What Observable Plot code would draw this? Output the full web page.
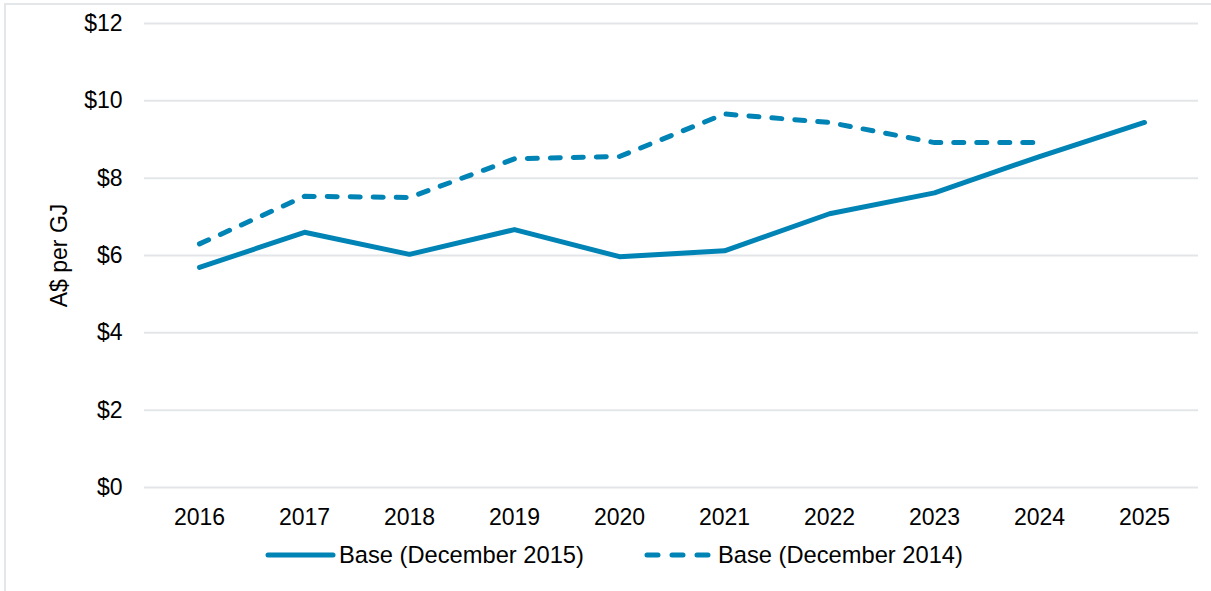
<!DOCTYPE html>
<html>
<head>
<meta charset="utf-8">
<script src="https://cdn.jsdelivr.net/npm/d3@7"></script>
<script src="https://cdn.jsdelivr.net/npm/@observablehq/plot@0.6"></script>
<style>
  html, body { margin: 0; padding: 0; background: #fff; }
  body { width: 1211px; height: 591px; position: relative; overflow: hidden; font-family: "Liberation Sans", Arial, sans-serif; }
  #frame { position: absolute; left: 4px; top: 3px; width: 1400px; height: 800px; border: 2px solid #e3e7ea; box-sizing: border-box; }
  #chart { position: absolute; left: 0; top: 0; }
  #legend { position: absolute; top: 540px; left: 0; width: 1211px; font-size: 23.7px; color: #000; }
  .item { position: absolute; display: flex; align-items: center; height: 30px; }
  .item svg { display: block; margin-right: 2px; }
</style>
</head>
<body>
<div id="frame"></div>
<div id="chart"></div>
<div id="legend"></div>
<script>
const years = [2016, 2017, 2018, 2019, 2020, 2021, 2022, 2023, 2024, 2025];
const dec2015 = [5.69, 6.60, 6.03, 6.67, 5.97, 6.12, 7.08, 7.62, 8.56, 9.44];
const dec2014 = [6.30, 7.53, 7.50, 8.50, 8.56, 9.66, 9.44, 8.92, 8.92, null];
const yTicks = [0, 2, 4, 6, 8, 10, 12];
const seriesNames = ["Base (December 2015)", "Base (December 2014)"];
const color = "#0083b5";
const dash = "10,13";

const rows = [];
years.forEach((yr, i) => {
  rows.push({year: String(yr), value: dec2015[i], series: seriesNames[0]});
  if (dec2014[i] != null) rows.push({year: String(yr), value: dec2014[i], series: seriesNames[1]});
});

const chart = Plot.plot({
  width: 1211,
  height: 540,
  marginLeft: 144,
  marginRight: 13,
  marginTop: 23,
  marginBottom: 53,
  style: {fontFamily: "'Liberation Sans', Arial, sans-serif", fontSize: "23px", color: "#000", background: "transparent"},
  x: {type: "point", domain: years.map(String), padding: 0.5, label: null},
  y: {domain: [0, 12], ticks: yTicks, label: null},
  marks: [
    Plot.ruleY(yTicks, {stroke: "#e3e6e8", strokeWidth: 2}),
    Plot.axisX({tickSize: 0, tickPadding: 21, label: null, fontSize: 23}),
    Plot.axisY({ticks: yTicks, tickSize: 0, tickPadding: 22, tickFormat: d => "$" + d, label: "A$ per GJ", labelAnchor: "center", labelArrow: "none", labelOffset: 94, fontSize: 23}),
    Plot.line(rows.filter(d => d.series === seriesNames[1]), {x: "year", y: "value", stroke: color, strokeWidth: 5, strokeDasharray: dash, strokeLinecap: "round", strokeLinejoin: "round"}),
    Plot.line(rows.filter(d => d.series === seriesNames[0]), {x: "year", y: "value", stroke: color, strokeWidth: 5, strokeLinecap: "round", strokeLinejoin: "round"})
  ]
});
document.getElementById("chart").appendChild(chart);

// Legend
const legend = document.getElementById("legend");
const lefts = [263, 642];
seriesNames.forEach((name, i) => {
  const item = document.createElement("div");
  item.className = "item";
  item.style.left = lefts[i] + "px";
  const svg = d3.create("svg").attr("width", 74).attr("height", 30);
  svg.append("line").attr("x1", 5).attr("x2", i === 1 ? 66 : 70).attr("y1", 15).attr("y2", 15)
    .attr("stroke", color).attr("stroke-width", 5).attr("stroke-linecap", "round")
    .attr("stroke-dasharray", i === 1 ? "11,14" : null);
  item.appendChild(svg.node());
  const t = document.createElement("span");
  t.textContent = name;
  item.appendChild(t);
  legend.appendChild(item);
});
</script>
</body>
</html>
